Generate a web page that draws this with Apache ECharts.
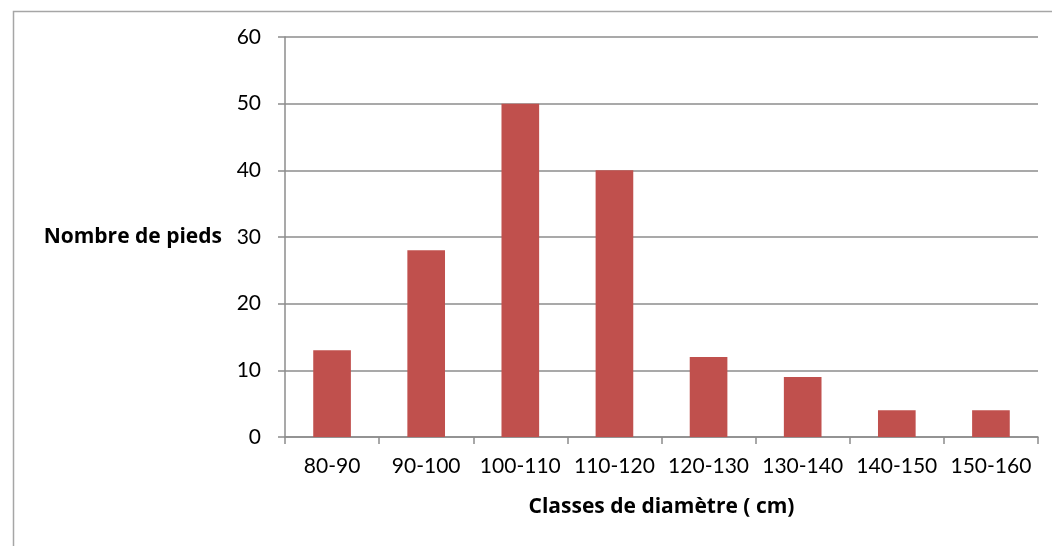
<!DOCTYPE html>
<html><head><meta charset="utf-8">
<script src="https://cdn.jsdelivr.net/npm/echarts@6/dist/echarts.min.js"></script>
<style>html,body{margin:0;padding:0;background:#fff}#c{width:1052px;height:546px}</style>
</head><body><div id="c"></div>
<script>
const categories = ['80-90','90-100','100-110','110-120','120-130','130-140','140-150','150-160'];
const counts = [13, 28, 50, 40, 12, 9, 4, 4];
const yTicks = [0, 10, 20, 30, 40, 50, 60];
const yTitle = 'Nombre de pieds';
const xTitle = 'Classes de diamètre ( cm)';

const font = 'Lato, "Open Sans", sans-serif';
const titleFont = '"Open Sans", Lato, sans-serif';
const chart = echarts.init(document.getElementById('c'), null, {renderer: 'canvas'});
chart.setOption({
  animation: false,
  backgroundColor: '#fff',
  graphic: [{
    type: 'rect', left: 11, top: 9, silent: true,
    shape: {x: 0, y: 0, width: 1100, height: 600},
    style: {fill: 'none', stroke: '#a6a6a6', lineWidth: 1.5}
  }],
  grid: {left: 285, top: 37, right: 14, bottom: 109, containLabel: false},
  xAxis: {
    type: 'category', data: categories,
    name: xTitle, nameLocation: 'middle', nameGap: 60,
    nameTextStyle: {fontFamily: titleFont, fontSize: 21, fontWeight: 'bold', color: '#000'},
    axisLine: {lineStyle: {color: '#8c8c8c', width: 1.5}},
    axisTick: {show: true, length: 7, lineStyle: {color: '#8c8c8c', width: 1.5}},
    axisLabel: {fontFamily: font, fontSize: 21, color: '#000', margin: 19, interval: 0}
  },
  yAxis: {
    type: 'value', min: yTicks[0], max: yTicks[yTicks.length - 1], interval: 10,
    name: yTitle, nameLocation: 'middle', nameRotate: 0, nameGap: 63,
    nameTextStyle: {fontFamily: titleFont, fontSize: 21, fontWeight: 'bold', color: '#000', align: 'right'},
    axisLine: {show: true, lineStyle: {color: '#8c8c8c', width: 1.5}},
    axisTick: {show: true, length: 7, lineStyle: {color: '#8c8c8c', width: 1.5}},
    axisLabel: {fontFamily: font, fontSize: 21, color: '#000', margin: 24},
    splitLine: {lineStyle: {color: '#8c8c8c', width: 1.5}}
  },
  series: [{
    type: 'bar', data: counts, barWidth: '40%',
    itemStyle: {color: '#c0504d'}
  }]
});
</script></body></html>
